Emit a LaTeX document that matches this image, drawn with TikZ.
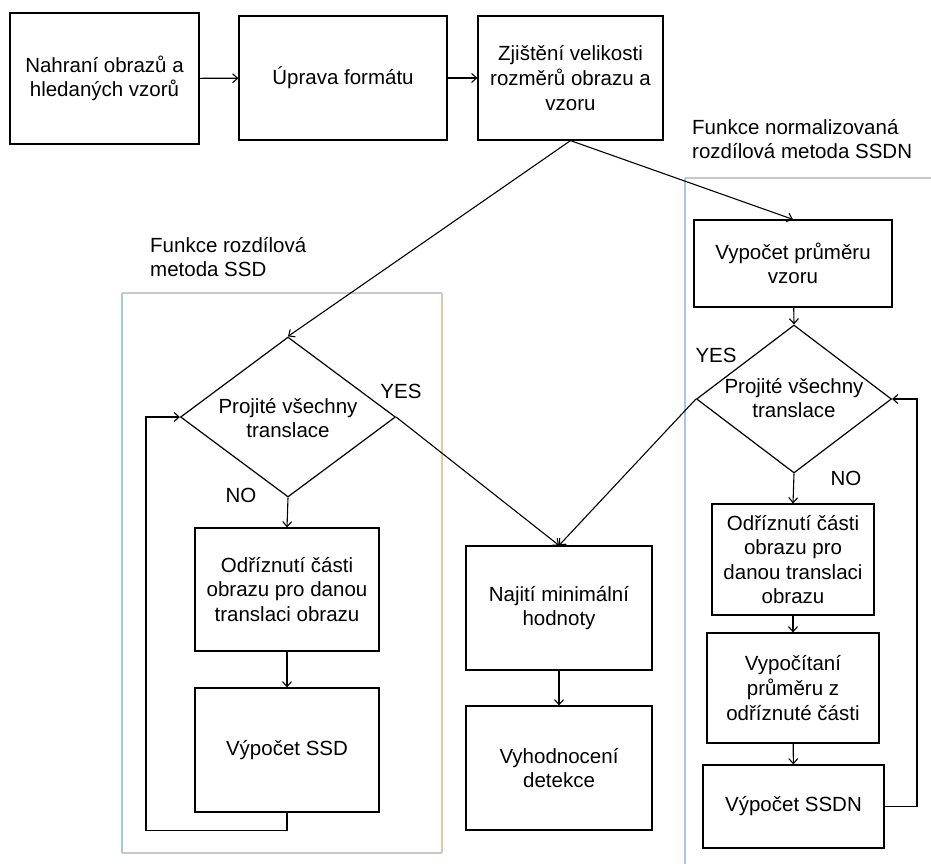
\documentclass[tikz,border=0pt]{standalone}
\usepackage{fontspec}
\setmainfont{Liberation Sans}
\usetikzlibrary{shapes.geometric,arrows.meta}
\definecolor{framegray}{HTML}{C8C8C8}
\definecolor{frameblue}{HTML}{A8C6E2}
\definecolor{frametan}{HTML}{E2C6A6}
\begin{document}
\begin{tikzpicture}[x=1pt,y=-1pt,
  font=\fontsize{20.5}{24.6}\selectfont,
  box/.style={draw, line width=1.2pt, align=center, inner sep=0pt},
  decision/.style={draw, line width=1.2pt, diamond, inner sep=0pt},
  decisiontext/.style={align=center, inner sep=0pt},
  flow/.style={line width=1.1pt, -{Straight Barb[length=5pt,width=9pt]}},
  tag/.style={inner sep=0pt},
  grouptitle/.style={inner sep=0pt, align=left, anchor=north west}]
\useasboundingbox (0,0) rectangle (931,863);

% group frames
\begin{scope}[line width=1.5pt]
  \draw[framegray] (122,293) -- (442,293);
  \draw[framegray] (122,853) -- (442,853);
  \draw[frameblue] (122,293) -- (122,853);
  \draw[frametan] (442,293) -- (442,853);
  \draw[framegray] (685,178) -- (935,178);
  \draw[frameblue] (685,178) -- (685,870);
\end{scope}
\node[grouptitle] (tssd) at (150,237) {Funkce rozdílová\\metoda SSD};
\node[grouptitle] (tssdn) at (692,119) {Funkce normalizovaná\\rozdílová metoda SSDN};

% top row
\node[box, minimum width=189, minimum height=131] (load) at (104.5,78.5) {Nahraní obrazů a\\hledaných vzorů};
\node[box, minimum width=208, minimum height=124] (fmt) at (343,78) {Úprava formátu};
\node[box, minimum width=185, minimum height=124] (size) at (570.5,78) {Zjištění velikosti\\rozměrů obrazu a\\vzoru};

% SSD branch
\node[decision, minimum width=215, minimum height=160] (d1) at (288,417) {};
\node[decisiontext] (d1text) at (288,418) {Projité všechny\\translace};
\node[box, minimum width=184, minimum height=123] (cut1) at (287,589.5) {Odříznutí části\\obrazu pro danou\\translaci obrazu};
\node[box, minimum width=184, minimum height=124] (ssd) at (287,750) {Výpočet SSD};

% common result
\node[box, minimum width=186, minimum height=124] (min) at (559,608) {Najití minimální\\hodnoty};
\node[box, minimum width=186, minimum height=124] (eval) at (559,768) {Vyhodnocení\\detekce};

% SSDN branch
\node[box, minimum width=198, minimum height=87] (mean) at (793,263.5) {Vypočet průměru\\vzoru};
\node[decision, minimum width=195, minimum height=148] (d2) at (794,399) {};
\node[decisiontext] (d2text) at (794,398) {Projité všechny\\translace};
\node[box, minimum width=162, minimum height=111] (cut2) at (793,559.5) {Odříznutí části\\obrazu pro\\danou translaci\\obrazu};
\node[box, minimum width=172, minimum height=110] (cmean) at (793,688) {Vypočítaní\\průměru z\\odříznuté části};
\node[box, minimum width=181, minimum height=83] (ssdn) at (793.5,806.5) {Výpočet SSDN};

% labels
\node[tag] (yes1) at (401,391) {YES};
\node[tag] (no1) at (241,495) {NO};
\node[tag] (yes2) at (716,355) {YES};
\node[tag] (no2) at (846,478) {NO};

% connectors
\draw[flow] (load) -- (fmt);
\draw[flow] (fmt) -- (size);
\coordinate (split) at (size.south);
\draw[flow] (split) -- (d1.north);
\draw[flow] (split) -- (mean.north);
\draw[flow] (d1.south) -- (cut1.north);
\draw[flow] (cut1) -- (ssd);
\draw[flow] (ssd.south) -- ++(0,18) -| (146,417) -- (d1.west);
\draw[flow] (d1.east) -- (min.north);
\draw[flow] (d2.west) -- (min.north);
\draw[flow] (min) -- (eval);
\draw[flow] (mean) -- (d2.north);
\draw[flow] (d2.south) -- (cut2.north);
\draw[flow] (cut2) -- (cmean);
\draw[flow] (cmean) -- (ssdn);
\draw[flow] (ssdn.east) -- (917,806.5) |- (d2.east);
\end{tikzpicture}
\end{document}
